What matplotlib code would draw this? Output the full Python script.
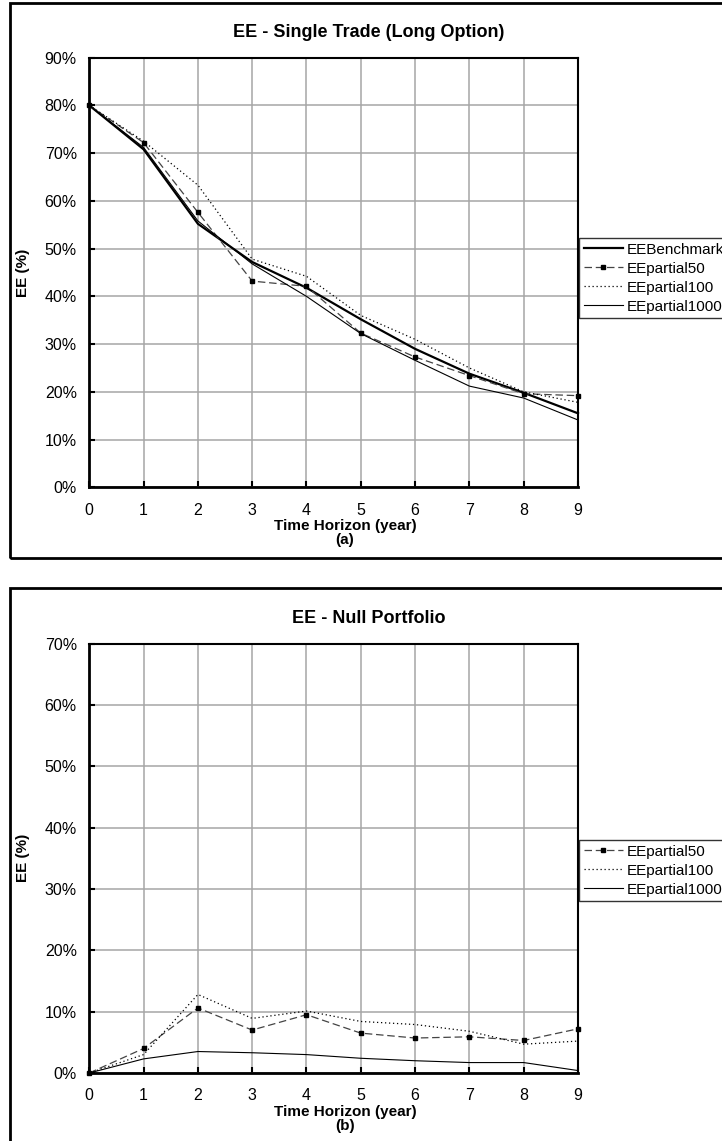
import numpy as np
import matplotlib
matplotlib.use('Agg')
import matplotlib.pyplot as plt
from matplotlib.patches import Rectangle
from matplotlib.ticker import FuncFormatter

plt.rcParams['font.family'] = ['Liberation Sans', 'DejaVu Sans']

#%% data
years = [0, 1, 2, 3, 4, 5, 6, 7, 8, 9]

# (a) single trade, long option
ee_benchmark = [80, 70.8, 55.2, 47.2, 41.8, 35.2, 29.0, 23.8, 19.8, 15.5]
ee_partial50_a = [80, 72.2, 57.6, 43.2, 42.1, 32.3, 27.3, 23.4, 19.6, 19.2]
ee_partial100_a = [80, 72.5, 63.3, 47.8, 44.2, 36.0, 31.0, 25.0, 20.0, 17.8]
ee_partial1000_a = [80, 71.2, 55.8, 46.8, 40.0, 32.2, 26.6, 21.2, 18.7, 14.1]

# (b) null portfolio
ee_partial50_b = [0, 4.0, 10.6, 7.0, 9.5, 6.5, 5.7, 5.9, 5.3, 7.2]
ee_partial100_b = [0, 3.0, 12.8, 8.9, 10.1, 8.4, 7.9, 6.8, 4.7, 5.2]
ee_partial1000_b = [0, 2.3, 3.5, 3.3, 3.0, 2.4, 2.0, 1.7, 1.7, 0.4]

titles = ['EE - Single Trade (Long Option)', 'EE - Null Portfolio']
panel_tags = ['(a)', '(b)']

#%% figure
W, H = 722, 1141
fig = plt.figure(figsize=(W / 100, H / 100), dpi=100)


def fx(px):
    return px / W


def fy(py):
    return 1 - py / H


styles = {
    'EEBenchmark': dict(color='black', lw=1.6, ls='-'),
    'EEpartial50': dict(color='#444444', lw=0.9, ls=(0, (6, 3)), marker='s', ms=3.5,
                        mfc='black', mec='black'),
    'EEpartial100': dict(color='black', lw=0.9, ls=(0, (1, 2.2))),
    'EEpartial1000': dict(color='black', lw=0.8, ls='-'),
}


def setup_panel(ax, ymax, frame_top, frame_bottom, title, tag, leg_top):
    ax.set_xlim(0, 9)
    ax.set_ylim(0, ymax)
    ax.set_xticks(years)
    ax.set_yticks(np.arange(0, ymax + 1, 10))
    ax.yaxis.set_major_formatter(FuncFormatter(lambda v, p: f'{v:.0f}%'))
    ax.grid(True, color='#a6a6a6', lw=1.1)
    ax.set_axisbelow(True)
    for s in ax.spines.values():
        s.set_linewidth(1.5)
    ax.spines['left'].set_linewidth(2)
    ax.spines['bottom'].set_linewidth(2)
    ax.tick_params(axis='both', direction='in', length=4, width=1.5, labelsize=11.5)
    ax.tick_params(axis='y', pad=9)
    ax.tick_params(axis='x', pad=11)

    pos = ax.get_position()
    top_px = (1 - pos.y1) * H
    bot_px = (1 - pos.y0) * H
    fig.text(fx(369), fy(top_px - 20.5), title, ha='center', va='baseline',
             fontsize=13, weight='bold')
    fig.text(fx(345), fy(bot_px + 39), 'Time Horizon (year)', ha='center', va='center',
             fontsize=11, weight='bold')
    fig.text(fx(345), fy(bot_px + 53), tag, ha='center', va='center',
             fontsize=11, weight='bold')
    fig.text(fx(23), fy((top_px + bot_px) / 2), 'EE (%)', ha='center', va='center',
             rotation=90, fontsize=11, weight='bold')

    fig.add_artist(Rectangle((fx(10), fy(frame_bottom)), fx(740), (frame_bottom - frame_top) / H,
                             transform=fig.transFigure, fill=False, lw=2, ec='black'))

    leg = ax.legend(loc='upper left', bbox_to_anchor=(fx(579), fy(leg_top)),
                    bbox_transform=fig.transFigure, borderaxespad=0, frameon=True,
                    fancybox=False, edgecolor='black', fontsize=11, handlelength=2.6,
                    handletextpad=0.2, labelspacing=0.33, borderpad=0.3)
    leg.get_frame().set_linewidth(1)


# panel (a)
ax1 = fig.add_axes([fx(89.3), fy(487.3), fx(578 - 89.3), (487.3 - 57.7) / H])
ax1.plot(years, ee_benchmark, label='EEBenchmark', clip_on=False, **styles['EEBenchmark'])
ax1.plot(years, ee_partial50_a, label='EEpartial50', clip_on=False, **styles['EEpartial50'])
ax1.plot(years, ee_partial100_a, label='EEpartial100', clip_on=False, **styles['EEpartial100'])
ax1.plot(years, ee_partial1000_a, label='EEpartial1000', clip_on=False, **styles['EEpartial1000'])
setup_panel(ax1, 90, 3, 557.7, titles[0], panel_tags[0], 238)

# panel (b)
ax2 = fig.add_axes([fx(89.3), fy(1073), fx(578 - 89.3), (1073 - 643.5) / H])
ax2.plot(years, ee_partial50_b, label='EEpartial50', clip_on=False, **styles['EEpartial50'])
ax2.plot(years, ee_partial100_b, label='EEpartial100', clip_on=False, **styles['EEpartial100'])
ax2.plot(years, ee_partial1000_b, label='EEpartial1000', clip_on=False, **styles['EEpartial1000'])
setup_panel(ax2, 70, 588, 1160, titles[1], panel_tags[1], 840)

fig.savefig('out.png', dpi=100)
